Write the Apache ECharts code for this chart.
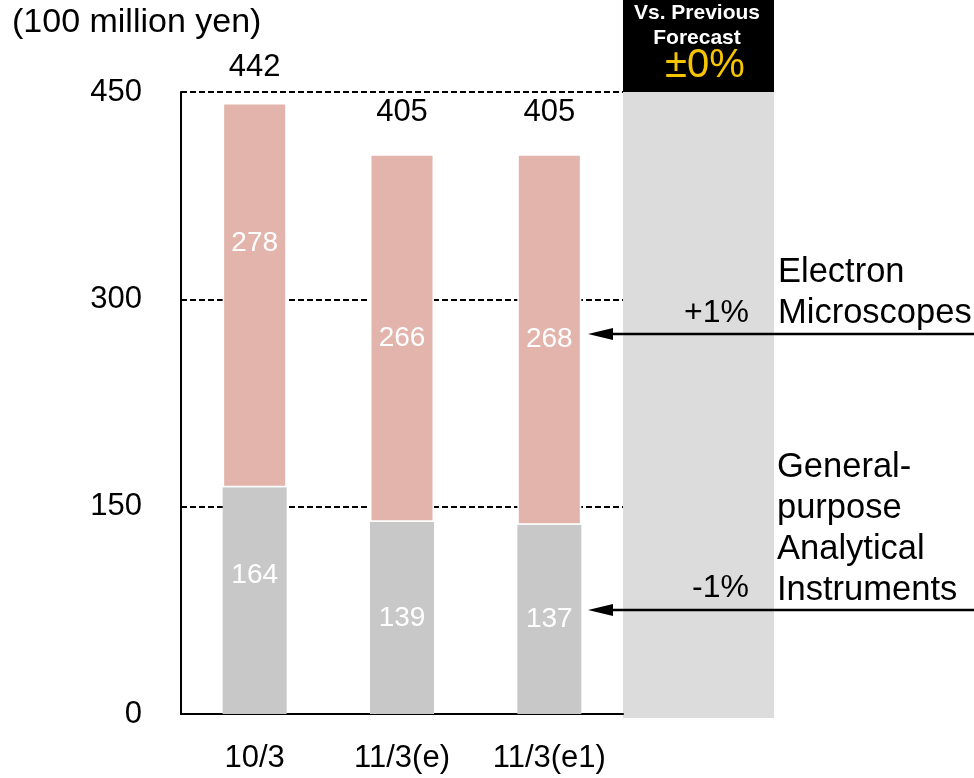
<!DOCTYPE html>
<html>
<head>
<meta charset="utf-8">
<script src="https://cdn.jsdelivr.net/npm/echarts@6/dist/echarts.min.js"></script>
<style>
  html, body { margin: 0; padding: 0; background: #fff; }
  #main { width: 974px; height: 778px; }
</style>
</head>
<body>
<div id="main"></div>
<script>
var categories = ['10/3', '11/3(e)', '11/3(e1)'];
var analytical = [164, 139, 137];   // General-purpose Analytical Instruments
var microscopes = [278, 266, 268];  // Electron Microscopes
var yTicks = [0, 150, 300, 450];

var totals = categories.map(function (c, i) {
    return analytical[i] + microscopes[i];
});

// label nudges (pixels), kept apart from the values
var greyLabelShift = [-25, 0, 0];
var pinkLabelShift = [-52, 0, 0];
var totalLabelShift = [-36, -42, -42];

var FONT = 'Liberation Sans, Arial, sans-serif';

var myChart = echarts.init(document.getElementById('main'));

function withShift(values, shifts) {
    return values.map(function (v, i) {
        return { value: v, label: { offset: [0, shifts[i]] } };
    });
}

option = {
    animation: false,
    grid: { left: 181, right: 351, top: 92, bottom: 64 },
    xAxis: {
        type: 'category',
        data: categories,
        axisLine: { lineStyle: { color: '#000', width: 2 } },
        axisTick: { inside: true, length: 8, lineStyle: { color: '#000', width: 1 } },
        axisLabel: { color: '#000', fontSize: 31, fontFamily: FONT, margin: 29 }
    },
    yAxis: {
        type: 'value',
        min: yTicks[0],
        max: yTicks[yTicks.length - 1],
        interval: yTicks[1] - yTicks[0],
        axisLine: { show: true, lineStyle: { color: '#000', width: 2 } },
        axisTick: { show: false },
        axisLabel: { color: '#000', fontSize: 31, fontFamily: FONT, margin: 39 },
        splitLine: { lineStyle: { color: '#000', width: 2, type: [6, 3] } }
    },
    series: [{
        name: 'General-purpose Analytical Instruments',
        type: 'bar',
        stack: 'total',
        barWidth: 64,
        itemStyle: { color: '#c8c8c8' },
        label: {
            show: true,
            position: 'inside',
            color: '#fff',
            fontSize: 28,
            fontFamily: FONT
        },
        data: withShift(analytical, greyLabelShift)
    }, {
        name: 'Electron Microscopes',
        type: 'bar',
        stack: 'total',
        barWidth: 64,
        itemStyle: { color: '#e3b4ac', borderColor: '#fff', borderWidth: 1.5 },
        label: {
            show: true,
            position: 'inside',
            color: '#fff',
            fontSize: 28,
            fontFamily: FONT
        },
        data: withShift(microscopes, pinkLabelShift)
    }, {
        name: 'Total',
        type: 'scatter',
        symbolSize: 0,
        z: 5,
        itemStyle: { opacity: 1 },
        label: {
            show: true,
            position: 'inside',
            color: '#000',
            textBorderWidth: 0,
            fontSize: 31,
            fontFamily: FONT
        },
        data: withShift(totals, totalLabelShift)
    }],
    graphic: [
        // unit caption
        {
            type: 'text', left: 12, top: 6,
            style: { text: '(100 million yen)', fill: '#000', font: '34px ' + FONT }
        },
        // comparison panel
        {
            type: 'rect', shape: { x: 623, y: 92, width: 151, height: 626 },
            style: { fill: '#dcdcdc' }, z: 0
        },
        {
            type: 'rect', shape: { x: 623, y: 0, width: 151, height: 92 },
            style: { fill: '#000' }
        },
        {
            type: 'text', x: 697, y: 13,
            style: {
                text: 'Vs. Previous', fill: '#fff', font: 'bold 21px ' + FONT,
                align: 'center', verticalAlign: 'middle'
            }
        },
        {
            type: 'text', x: 697, y: 38,
            style: {
                text: 'Forecast', fill: '#fff', font: 'bold 21px ' + FONT,
                align: 'center', verticalAlign: 'middle'
            }
        },
        {
            type: 'text', x: 705, y: 66,
            style: {
                text: '±0%', fill: '#f7c400', font: '40px ' + FONT,
                align: 'center', verticalAlign: 'middle'
            }
        },
        // change percentages
        {
            type: 'text', x: 749, y: 313,
            style: {
                text: '+1%', fill: '#000', font: '32px ' + FONT,
                align: 'right', verticalAlign: 'middle'
            }
        },
        {
            type: 'text', x: 749, y: 588,
            style: {
                text: '-1%', fill: '#000', font: '32px ' + FONT,
                align: 'right', verticalAlign: 'middle'
            }
        },
        // segment names
        {
            type: 'text', x: 778, y: 252,
            style: {
                text: 'Electron\nMicroscopes', fill: '#000', font: '34.5px ' + FONT,
                lineHeight: 41, align: 'left', verticalAlign: 'top'
            }
        },
        {
            type: 'text', x: 777, y: 447,
            style: {
                text: 'General-\npurpose\nAnalytical\nInstruments', fill: '#000',
                font: '34.5px ' + FONT, lineHeight: 41, align: 'left', verticalAlign: 'top'
            }
        },
        // arrows
        {
            type: 'line', shape: { x1: 974, y1: 334, x2: 605, y2: 334 },
            style: { stroke: '#000', lineWidth: 2.5 }
        },
        {
            type: 'polygon', shape: { points: [[588, 334], [613, 328], [613, 340]] },
            style: { fill: '#000' }
        },
        {
            type: 'line', shape: { x1: 974, y1: 610, x2: 605, y2: 610 },
            style: { stroke: '#000', lineWidth: 2.5 }
        },
        {
            type: 'polygon', shape: { points: [[588, 610], [613, 604], [613, 616]] },
            style: { fill: '#000' }
        }
    ]
};

myChart.setOption(option);
</script>
</body>
</html>
